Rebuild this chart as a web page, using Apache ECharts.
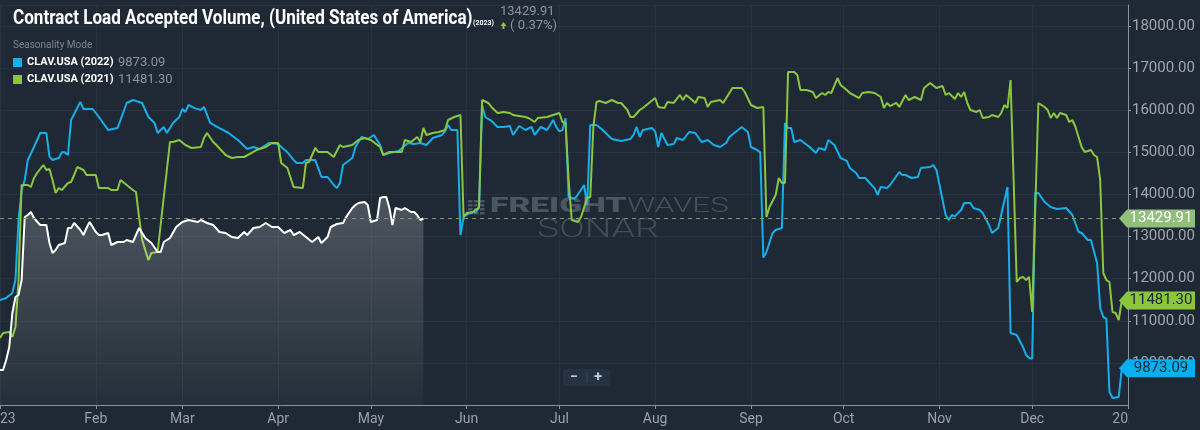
<!DOCTYPE html>
<html><head><meta charset="utf-8">
<script src="https://cdn.jsdelivr.net/npm/echarts@6/dist/echarts.min.js"></script>
<style>html,body{margin:0;padding:0;background:#1e2935;}#c{width:1200px;height:430px;}</style>
</head><body><div id="c"></div>
<script>
// x values are day-of-year indices (0 = Jan 1 2023, 365 = Jan 1 2024)
const START = Date.UTC(2023, 0, 1);
const DAYS = 366;
const tickLabels = ['2023','Feb','Mar','Apr','May','Jun','Jul','Aug','Sep','Oct','Nov','Dec','2024'];
const changePct = 0.37;

const clav2022 = [[0,11494],[2,11540],[4,11660],[5,11969],[6,13394],[7,14106],[8,14344],[9,14819],[11,15128],[13,15460],[15,15460],[16,14900],[17,14819],[19,14866],[20,15000],[21,15000],[22,14938],[23,15769],[26,16200],[27,16030],[30,16030],[32,15840],[35,15531],[38,15578],[39,15769],[41,16173],[43,16244],[46,16173],[48,15840],[50,15698],[51,15460],[53,15603],[54,15460],[56,15698],[58,15840],[59,16030],[60,15960],[61,16125],[63,16050],[65,16006],[66,16078],[68,15698],[71,15578],[74,15460],[77,15294],[80,15080],[82,15128],[84,15080],[87,15223],[90,15200],[93,15000],[95,14819],[96,14748],[98,14748],[99,14819],[102,14819],[104,14415],[106,14415],[108,14225],[109,14154],[110,14273],[111,14700],[114,14866],[115,15128],[117,15365],[119,15318],[120,15365],[121,15413],[123,15175],[124,14938],[126,14985],[129,15032],[132,15223],[134,15200],[136,15223],[138,15175],[140,15340],[141,15365],[143,15413],[144,15500],[145,15650],[146,15531],[148,15531],[149,13038],[150,13465],[152,13560],[154,13584],[155,13679],[156,16125],[157,15840],[159,15750],[161,15603],[163,15603],[165,15626],[166,15413],[168,15626],[170,15531],[172,15603],[173,15413],[175,15603],[177,15531],[179,15769],[180,15603],[181,15500],[182,15530],[183,15810],[184,13940],[186,13900],[187,14000],[189,14225],[190,13750],[191,15650],[193,15650],[195,15531],[196,15460],[198,15318],[201,15270],[204,15318],[205,15413],[206,15603],[207,15365],[208,15531],[211,15578],[212,15500],[213,15128],[214,15460],[216,15175],[218,15200],[219,15340],[221,15294],[223,15484],[225,15460],[227,15247],[229,15294],[231,15175],[233,15128],[235,15223],[236,15365],[238,15484],[240,15603],[242,15484],[243,15128],[245,15056],[246,15000],[247,12500],[248,12634],[250,13085],[251,13156],[253,13204],[254,15698],[255,15578],[256,15578],[257,15247],[259,15294],[262,15128],[264,14985],[265,15104],[267,15056],[268,15294],[270,15175],[272,14866],[274,14800],[275,14629],[277,14510],[278,14391],[280,14391],[282,14225],[283,14150],[284,13988],[285,14178],[287,14154],[288,14225],[291,14534],[292,14460],[293,14463],[295,14391],[297,14415],[298,14629],[301,14652],[302,14700],[303,14581],[305,13869],[306,13513],[307,13394],[308,13513],[309,13480],[311,13631],[312,13798],[314,13798],[315,13679],[317,13631],[318,13560],[320,13275],[321,13085],[323,13204],[326,14178],[327,10710],[329,10663],[331,10378],[332,10188],[333,10116],[334,10100],[335,14035],[336,14035],[338,13822],[340,13703],[342,13655],[345,13679],[347,13513],[349,13109],[350,13085],[352,12919],[353,12919],[355,12373],[356,11304],[357,11090],[358,11050],[359,9309],[360,9166],[362,9190],[363,9873.09]];

const clav2021 = [[0,10591],[1,10710],[3,10734],[4,10615],[5,10853],[6,11969],[7,14225],[9,14225],[10,14178],[11,14391],[12,14510],[14,14700],[15,14581],[16,14605],[17,14344],[18,14035],[19,14154],[20,14106],[22,14273],[23,14296],[24,14463],[25,14652],[27,14581],[28,14463],[31,14463],[32,14154],[35,14154],[36,14106],[38,14106],[39,14344],[41,14225],[43,14106],[44,14059],[45,13465],[46,12919],[48,12444],[49,12610],[51,12634],[55,15246],[56,15246],[58,15294],[60,15175],[62,15104],[65,15128],[66,15340],[67,15460],[69,15246],[70,15175],[73,14938],[75,14866],[77,14890],[79,14890],[82,15010],[83,15056],[86,15128],[88,15223],[90,15223],[91,14748],[93,14629],[95,14178],[98,14154],[99,14748],[100,14771],[102,15104],[103,15010],[106,15010],[108,14890],[110,15175],[111,15128],[114,15175],[116,15294],[118,15340],[120,15294],[123,15128],[124,14938],[126,15010],[130,15010],[131,15294],[133,15246],[135,15365],[136,15246],[137,15579],[138,15413],[140,15460],[142,15484],[144,15531],[145,15769],[147,15840],[149,15888],[150,13465],[151,13560],[153,13584],[155,13690],[156,16244],[158,16173],[159,16078],[161,15935],[163,15960],[165,15935],[166,15888],[170,15840],[171,15816],[173,15721],[174,15816],[177,15840],[179,15888],[181,15935],[182,15721],[183,15698],[184,14344],[185,13394],[187,13346],[188,13465],[190,13916],[191,13940],[192,15603],[193,16196],[194,16220],[196,16173],[198,16244],[200,16173],[201,16173],[203,16006],[204,15840],[205,15840],[207,16006],[208,16054],[210,16173],[212,16291],[213,16078],[215,16054],[216,16196],[218,16173],[220,16363],[221,16244],[222,16363],[224,16244],[225,16173],[226,16315],[228,16291],[229,16078],[230,16196],[233,16244],[234,16173],[236,16410],[237,16529],[240,16529],[241,16434],[243,16125],[245,16054],[247,16078],[248,13465],[249,13703],[251,13988],[252,14391],[253,14273],[254,14273],[255,16909],[257,16909],[258,16838],[259,16481],[261,16481],[263,16434],[264,16291],[266,16410],[267,16363],[268,16434],[269,16410],[271,16766],[272,16600],[274,16481],[275,16410],[278,16291],[279,16410],[281,16434],[283,16410],[285,16315],[286,16054],[287,16173],[288,16100],[290,16173],[291,16078],[293,16363],[294,16244],[296,16315],[298,16244],[299,16529],[301,16648],[303,16529],[305,16576],[306,16363],[307,16410],[309,16268],[310,16410],[311,16315],[312,16434],[313,16173],[314,16006],[316,15960],[317,16006],[318,15816],[320,15840],[321,15888],[323,15840],[324,15935],[325,16125],[326,16054],[327,16719],[329,11921],[330,12016],[331,12040],[332,11969],[333,12040],[334,11209],[336,16173],[338,16078],[339,16006],[340,15816],[341,15935],[342,15816],[343,15935],[345,15888],[346,15721],[347,15769],[348,15603],[350,15128],[351,15010],[353,15056],[354,14938],[355,14890],[356,14344],[357,12135],[358,11969],[359,11921],[360,11209],[361,11185],[362,11019],[363,11481.30]];

const clav2023 = [[0,9831],[1,9831],[2,10069],[3,10378],[4,11185],[5,11565],[6,11613],[7,11969],[8,13465],[9,13513],[10,13584],[11,13441],[13,13275],[15,13275],[16,12848],[17,12610],[18,12681],[19,12800],[21,12848],[22,13204],[23,13204],[24,13323],[26,13156],[27,13038],[28,13204],[29,13346],[31,13109],[32,13038],[33,13038],[35,13085],[36,12800],[38,12871],[40,12871],[41,12919],[43,12871],[45,13204],[47,12966],[49,12848],[51,12634],[52,12634],[53,12871],[55,12966],[57,13228],[59,13346],[61,13394],[64,13346],[65,13394],[67,13323],[69,13275],[71,13109],[73,13085],[75,12990],[77,12966],[79,13109],[80,13038],[82,13204],[84,13228],[86,13323],[88,13228],[90,13228],[92,13085],[94,13156],[95,13038],[97,13109],[99,12990],[101,12871],[103,12990],[104,12848],[106,12990],[107,13228],[109,13299],[111,13323],[112,13465],[114,13679],[115,13750],[116,13798],[118,13821],[119,13750],[120,13346],[122,13394],[123,13916],[124,13940],[125,13940],[126,13679],[127,13275],[128,13679],[130,13631],[131,13679],[133,13584],[134,13584],[135,13513],[136,13394],[137,13429.91]];

const categories = [];
for (let i = 0; i < DAYS; i++) categories.push(new Date(START + i * 86400000).toISOString().slice(0, 10));
const isMonthStart = (i, v) => v.slice(8) === '01';
const tickLabel = v => {
  if (v.slice(8) !== '01') return '';
  const y = +v.slice(0, 4), m = +v.slice(5, 7);
  return y === 2024 ? tickLabels[12] : tickLabels[m - 1];
};
const fmt = v => Number(v).toFixed(2);
const last = a => a[a.length - 1][1];

const BG = '#1e2935', BLUE = '#16afe9', GREEN = '#8cc63f', AXIS = '#8b929a', GRIDC = '#26323f';
const FONT = 'Roboto, "Noto Sans", sans-serif';

function tag(value, bg, fg) {
  return {
    silent: true, animation: false,
    symbol: 'path://M0,9L8,0L76,0L76,18L8,18Z', symbolSize: [76, 18], symbolKeepAspect: false,
    symbolOffset: [29, 0],
    label: { show: true, position: 'inside', formatter: p => fmt(p.value), color: fg, fontSize: 15, fontFamily: FONT, offset: [4, 0] },
    itemStyle: { color: bg },
    data: [{ coord: [DAYS - 1, value], value: value }]
  };
}

const logoBars = [];
for (let r = 0; r < 4; r++) for (let c = 0; c < 3; c++)
  logoBars.push({ type: 'rect', z: 1, shape: { x: 468 + c * 6, y: 200 + r * 4, width: 4.5, height: 2.5 }, style: { fill: '#4b5662' } });

const chart = echarts.init(document.getElementById('c'), null, { renderer: 'canvas' });
const option = {
  backgroundColor: BG,
  animation: false,
  grid: { left: 0, right: 72, top: 5, bottom: 25, containLabel: false, outerBoundsMode: 'none' },
  xAxis: {
    type: 'category', data: categories, boundaryGap: false,
    axisLine: { lineStyle: { color: AXIS, width: 1 } },
    axisTick: { interval: isMonthStart, length: 4, lineStyle: { color: AXIS } },
    axisLabel: { interval: isMonthStart, formatter: tickLabel, color: '#9aa1a8', fontSize: 14, fontFamily: FONT, margin: 7, hideOverlap: false },
    splitLine: { show: true, interval: isMonthStart, lineStyle: { color: GRIDC } }
  },
  yAxis: {
    type: 'value', position: 'right', min: 9000, max: 18500, interval: 1000,
    axisLine: { show: true, lineStyle: { color: AXIS } },
    axisTick: { show: true, length: 3, lineStyle: { color: AXIS } },
    axisLabel: { formatter: v => fmt(v), color: '#a0a6ad', fontSize: 15, fontFamily: FONT, margin: 4, showMinLabel: false, showMaxLabel: false },
    splitLine: { show: true, lineStyle: { color: GRIDC } }
  },
  legend: {
    left: 13, top: 56, padding: 0, orient: 'vertical', itemWidth: 9, itemHeight: 9, itemGap: 4, icon: 'rect',
    selectedMode: false,
    data: ['CLAV.USA (2022)', 'CLAV.USA (2021)'],
    formatter: name => '{n|' + name + '}{v|' + fmt(name.indexOf('2022') >= 0 ? last(clav2022) : last(clav2021)) + '}',
    textStyle: { rich: {
      n: { color: '#ffffff', fontWeight: 'bold', fontSize: 11, fontFamily: FONT, width: 91 },
      v: { color: '#8d949b', fontSize: 13, fontFamily: FONT }
    } }
  },
  series: [
    { name: 'CLAV.USA (2022)', type: 'line', data: clav2022, showSymbol: false, symbol: 'none',
      lineStyle: { color: BLUE, width: 2 }, itemStyle: { color: BLUE }, z: 3,
      markPoint: tag(last(clav2022), '#05b0ee', '#1b2633') },
    { name: 'CLAV.USA (2021)', type: 'line', data: clav2021, showSymbol: false, symbol: 'none',
      lineStyle: { color: GREEN, width: 2 }, itemStyle: { color: GREEN }, z: 3,
      markPoint: tag(last(clav2021), '#8cc63f', '#1b2633') },
    { name: 'CLAV.USA (2023)', type: 'line', data: clav2023, showSymbol: false, symbol: 'none',
      lineStyle: { color: '#ffffff', width: 2 }, itemStyle: { color: '#ffffff' }, z: 4,
      areaStyle: { color: new echarts.graphic.LinearGradient(0, 0, 0, 1, [
        { offset: 0, color: 'rgba(255,255,255,0.30)' }, { offset: 1, color: 'rgba(255,255,255,0.04)' }]) },
      markLine: { silent: true, symbol: 'none', label: { show: false }, animation: false,
        lineStyle: { color: '#7c9b6d', type: [4, 4], width: 1 }, data: [{ yAxis: last(clav2023) }] },
      markPoint: tag(last(clav2023), '#8fbf7b', '#ffffff') }
  ],
  graphic: [
    { type: 'text', x: 13, y: 19, scaleX: 0.813, z: 10,
      style: { text: 'Contract Load Accepted Volume, (United States of America)', fill: '#ffffff', fontSize: 21, fontWeight: 'bold', fontFamily: FONT, verticalAlign: 'middle' } },
    { type: 'text', x: 473, y: 23, z: 10,
      style: { text: '(2023)', fill: '#ffffff', fontSize: 7, fontWeight: 'bold', fontFamily: FONT, verticalAlign: 'middle' } },
    { type: 'text', x: 500, y: 12, z: 10,
      style: { text: fmt(last(clav2023)), fill: '#8d949b', fontSize: 13, fontFamily: FONT, verticalAlign: 'middle' } },
    { type: 'polygon', z: 10, shape: { points: [[503.5, 22], [500.5, 26], [502.5, 26], [502.5, 29], [504.5, 29], [504.5, 26], [506.5, 26]] }, style: { fill: GREEN } },
    { type: 'text', x: 510, y: 26, z: 10,
      style: { text: '( ' + changePct.toFixed(2) + '%)', fill: '#8d949b', fontSize: 13, fontFamily: FONT, verticalAlign: 'middle' } },
    { type: 'text', x: 13, y: 45, z: 10,
      style: { text: 'Seasonality Mode', fill: '#7d858e', fontSize: 10, fontFamily: FONT, verticalAlign: 'middle' } },
    // watermark
    ...logoBars,
    { type: 'text', x: 490, y: 207, scaleX: 1.6, z: 1,
      style: { text: 'FREIGHT', fill: '#4b5662', fontSize: 21, fontWeight: 900, fontFamily: FONT, verticalAlign: 'middle' } },
    { type: 'text', x: 627, y: 207, scaleX: 1.5, z: 1,
      style: { text: 'WAVES', fill: '#46515c', fontSize: 21, fontWeight: 300, fontFamily: FONT, verticalAlign: 'middle' } },
    { type: 'text', x: 537, y: 231, scaleX: 1.5, z: 1,
      style: { text: 'SONAR', fill: '#414c57', fontSize: 25, fontWeight: 300, fontFamily: FONT, verticalAlign: 'middle' } },
    // zoom control
    { type: 'rect', z: 10, shape: { x: 563, y: 369, width: 47, height: 17, r: 3 }, style: { fill: '#253241' } },
    { type: 'line', z: 11, shape: { x1: 587, y1: 372, x2: 587, y2: 383 }, style: { stroke: '#3b4857', lineWidth: 1 } },
    { type: 'text', x: 574, y: 377, z: 11, style: { text: '−', fill: '#c9cdd2', fontSize: 14, fontWeight: 'bold', fontFamily: FONT, align: 'center', verticalAlign: 'middle' } },
    { type: 'text', x: 598, y: 377, z: 11, style: { text: '+', fill: '#c9cdd2', fontSize: 15, fontWeight: 'bold', fontFamily: FONT, align: 'center', verticalAlign: 'middle' } },
    // panel edge clipping the last tick label, as in the source
    { type: 'rect', z: 100, shape: { x: 1129, y: 407, width: 71, height: 23 }, style: { fill: BG } }
  ]
};
chart.setOption(option);
</script>
</body></html>
